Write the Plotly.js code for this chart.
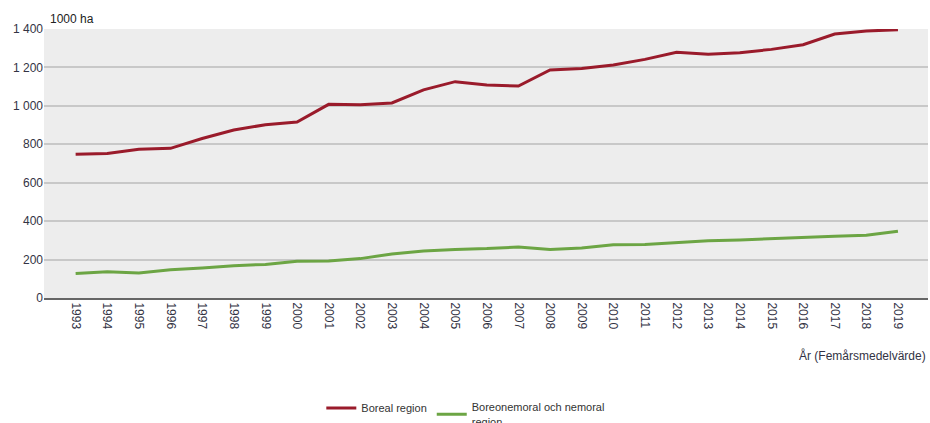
<!DOCTYPE html>
<html>
<head>
<meta charset="utf-8">
<script src="https://cdn.plot.ly/plotly-3.0.1.min.js"></script>
<style>
  html, body { margin: 0; padding: 0; background: #fff; }
  #chart { width: 930px; height: 423px; }
</style>
</head>
<body>
<div id="chart"></div>
<script>
const years = ["1993","1994","1995","1996","1997","1998","1999","2000","2001","2002","2003","2004","2005","2006","2007","2008","2009","2010","2011","2012","2013","2014","2015","2016","2017","2018","2019"];
const boreal = [748, 752, 774, 779, 830, 874, 902, 916, 1008, 1006, 1015, 1083, 1126, 1109, 1103, 1187, 1195, 1213, 1242, 1279, 1268, 1277, 1294, 1318, 1374, 1390, 1396];
const boreonemoral = [128, 137, 130, 147, 156, 168, 175, 191, 193, 205, 229, 245, 253, 257, 265, 253, 260, 277, 279, 288, 298, 302, 309, 316, 321, 326, 347];
const seriesNames = ["Boreal region", "Boreonemoral och nemoral<br>region"];
const yTicks = [0, 200, 400, 600, 800, 1000, 1200, 1400];

const font = "Liberation Sans, Arial, sans-serif";

const traces = [
  { x: years, y: boreal, name: seriesNames[0], type: "scatter", mode: "lines",
    line: { color: "#9a1b2b", width: 3 } },
  { x: years, y: boreonemoral, name: seriesNames[1], type: "scatter", mode: "lines",
    line: { color: "#6ca544", width: 3 } }
];

const layout = {
  width: 930, height: 423,
  margin: { l: 44, r: 2, t: 29, b: 125, autoexpand: false },
  paper_bgcolor: "#ffffff",
  plot_bgcolor: "#ededed",
  separators: ", ",
  font: { family: font, size: 12, color: "#333344" },
  showlegend: true,
  legend: {
    orientation: "h", xref: "container", yref: "container",
    x: 0.3455, xanchor: "left", y: 0.07, yanchor: "top",
    font: { family: font, size: 11, color: "#333333" },
    itemwidth: 30, tracegroupgap: 0, traceorder: "normal"
  },
  xaxis: {
    type: "category", range: [-1, 26.95],
    tickangle: 90, showgrid: false, zeroline: false,
    showline: true, linecolor: "#666666", linewidth: 2,
    ticks: "", tickfont: { family: font, size: 12, color: "#333344" },
    fixedrange: true
  },
  yaxis: {
    range: [0, 1400], tickvals: yTicks, separatethousands: true,
    showgrid: true, gridcolor: "#c8c8c8", gridwidth: 2,
    zeroline: false, showline: false, ticks: "",
    tickfont: { family: font, size: 12, color: "#333344" },
    fixedrange: true
  },
  annotations: [
    { text: "1000 ha", xref: "paper", yref: "paper", x: 0.004, y: 1.0, xanchor: "left", yanchor: "bottom",
      yshift: 1, showarrow: false, font: { family: font, size: 12, color: "#222222" } },
    { text: "År (Femårsmedelvärde)", xref: "paper", yref: "paper", x: 1.0, y: 0, xanchor: "right", yanchor: "top",
      yshift: -48, showarrow: false, font: { family: font, size: 12, color: "#333344" } }
  ]
};

Plotly.newPlot("chart", traces, layout, { displayModeBar: false, staticPlot: true });
</script>
</body>
</html>
